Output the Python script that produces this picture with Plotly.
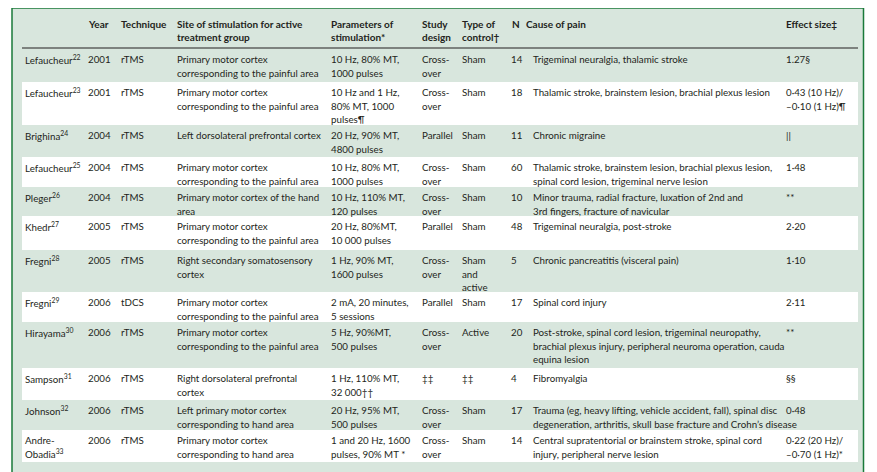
import plotly.graph_objects as go

# ---------------- data ----------------
header = ["", "Year", "Technique", "Site of stimulation for active\ntreatment group",
          "Parameters of\nstimulation*", "Study\ndesign", "Type of\ncontrol†", "N",
          "Cause of pain", "Effect size‡"]

authors = ["Lefaucheur<sup>22</sup>", "Lefaucheur<sup>23</sup>", "Brighina<sup>24</sup>",
           "Lefaucheur<sup>25</sup>", "Pleger<sup>26</sup>", "Khedr<sup>27</sup>",
           "Fregni<sup>28</sup>", "Fregni<sup>29</sup>", "Hirayama<sup>30</sup>",
           "Sampson<sup>31</sup>", "Johnson<sup>32</sup>", "Andre-\nObadia<sup>33</sup>"]
years = ["2001", "2001", "2004", "2004", "2004", "2005", "2005", "2006", "2006", "2006", "2006", "2006"]
techniques = ["rTMS", "rTMS", "rTMS", "rTMS", "rTMS", "rTMS", "rTMS", "tDCS", "rTMS", "rTMS", "rTMS", "rTMS"]
sites = ["Primary motor cortex\ncorresponding to the painful area",
         "Primary motor cortex\ncorresponding to the painful area",
         "Left dorsolateral prefrontal cortex",
         "Primary motor cortex\ncorresponding to the painful area",
         "Primary motor cortex of the hand\narea",
         "Primary motor cortex\ncorresponding to the painful area",
         "Right secondary somatosensory\ncortex",
         "Primary motor cortex\ncorresponding to the painful area",
         "Primary motor cortex\ncorresponding to the painful area",
         "Right dorsolateral prefrontal\ncortex",
         "Left primary motor cortex\ncorresponding to hand area",
         "Primary motor cortex\ncorresponding to hand area"]
parameters = ["10 Hz, 80% MT,\n1000 pulses",
              "10 Hz and 1 Hz,\n80% MT, 1000\npulses¶",
              "20 Hz, 90% MT,\n4800 pulses",
              "10 Hz, 80% MT,\n1000 pulses",
              "10 Hz, 110% MT,\n120 pulses",
              "20 Hz, 80%MT,\n10 000 pulses",
              "1 Hz, 90% MT,\n1600 pulses",
              "2 mA, 20 minutes,\n5 sessions",
              "5 Hz, 90%MT,\n500 pulses",
              "1 Hz, 110% MT,\n32 000††",
              "20 Hz, 95% MT,\n500 pulses",
              "1 and 20 Hz, 1600\npulses, 90% MT *"]
designs = ["Cross-\nover", "Cross-\nover", "Parallel", "Cross-\nover", "Cross-\nover", "Parallel",
           "Cross-\nover", "Parallel", "Cross-\nover", "‡‡", "Cross-\nover", "Cross-\nover"]
controls = ["Sham", "Sham", "Sham", "Sham", "Sham", "Sham", "Sham\nand\nactive", "Sham",
            "Active", "‡‡", "Sham", "Sham"]
n_values = ["14", "18", "11", "60", "10", "48", "5", "17", "20", "4", "17", "14"]
causes = ["Trigeminal neuralgia, thalamic stroke",
          "Thalamic stroke, brainstem lesion, brachial plexus lesion",
          "Chronic migraine",
          "Thalamic stroke, brainstem lesion, brachial plexus lesion,\nspinal cord lesion, trigeminal nerve lesion",
          "Minor trauma, radial fracture, luxation of 2nd and\n3rd fingers, fracture of navicular",
          "Trigeminal neuralgia, post-stroke",
          "Chronic pancreatitis (visceral pain)",
          "Spinal cord injury",
          "Post-stroke, spinal cord lesion, trigeminal neuropathy,\nbrachial plexus injury, peripheral neuroma operation, cauda\nequina lesion",
          "Fibromyalgia",
          "Trauma (eg, heavy lifting, vehicle accident, fall), spinal disc\ndegeneration, arthritis, skull base fracture and Crohn’s disease",
          "Central supratentorial or brainstem stroke, spinal cord\ninjury, peripheral nerve lesion"]
effects = ["1.27§", "0·43 (10 Hz)/\n–0·10 (1 Hz)¶", "||", "1·48", "**", "2·20", "1·10", "2·11",
           "**", "§§", "0·48", "0·22 (20 Hz)/\n–0·70 (1 Hz)*"]

columns = [authors, years, techniques, sites, parameters, designs, controls, n_values, causes, effects]

# ---------------- layout constants ----------------
W, H = 877, 472
PAGE_MARGIN = 8   # default body margin of the html page
col_x = [25, 88, 121, 177, 331, 422, 462, 511, 533, 786]
header_col_x = [25, 88, 121, 177, 331, 422, 462, 512, 526, 786]
row_tops = [49, 82, 125, 157, 187, 216, 250, 292, 322, 368, 400, 430, 462]
line_gap = 13.5
first_off = 10
header_lines_y = [24, 37]
rule_y = 48
box_left, box_right, box_top = 12, 863.5, 8
row_left, row_right = 22, 858
bg_green = "#d8e6dd"
border_green = "#1a7a3a"
text_color = "#231f20"
font_family = "Lato, 'Open Sans', sans-serif"
fsize = 9.75
hsize = 10

fig = go.Figure()
fig.add_trace(go.Scatter(x=[PAGE_MARGIN, W], y=[PAGE_MARGIN, H], mode="markers", marker=dict(opacity=0),
                         hoverinfo="skip", showlegend=False))

shapes = []
shapes.append(dict(type="rect", xref="x", yref="y", x0=box_left, x1=box_right, y0=box_top, y1=H + 20,
                   fillcolor=bg_green, line=dict(color=border_green, width=1.5), layer="below"))
for i in range(len(row_tops) - 1):
    if i % 2 == 1:
        shapes.append(dict(type="rect", xref="x", yref="y", x0=row_left, x1=row_right,
                           y0=row_tops[i], y1=row_tops[i + 1], fillcolor="white",
                           line=dict(width=0), layer="below"))
shapes.append(dict(type="line", xref="x", yref="y", x0=row_left, x1=row_right, y0=rule_y, y1=rule_y,
                   line=dict(color="#231f20", width=1.2)))

annotations = []
def add_text(x, y, txt, bold=False):
    size = fsize
    if bold:
        txt = "<b>" + txt + "</b>"
        size = hsize
    annotations.append(dict(x=x, y=y, xref="x", yref="y", text=txt, showarrow=False,
                            xanchor="left", yanchor="middle",
                            font=dict(family=font_family, size=size, color=text_color),
                            borderpad=0, borderwidth=0))

for c, h in enumerate(header):
    for li, line in enumerate(h.split("\n")):
        if line:
            add_text(header_col_x[c], header_lines_y[li], line, bold=True)

for r in range(len(authors)):
    top = row_tops[r]
    for c, col in enumerate(columns):
        for li, line in enumerate(col[r].split("\n")):
            add_text(col_x[c], top + first_off + li * line_gap, line)

fig.update_layout(
    width=W - PAGE_MARGIN, height=H - PAGE_MARGIN, margin=dict(l=0, r=0, t=0, b=0),
    paper_bgcolor="white", plot_bgcolor="white",
    xaxis=dict(range=[PAGE_MARGIN, W], visible=False, fixedrange=True),
    yaxis=dict(range=[H, PAGE_MARGIN], visible=False, fixedrange=True),
    shapes=shapes, annotations=annotations, showlegend=False,
)
fig.write_html("out.html")
